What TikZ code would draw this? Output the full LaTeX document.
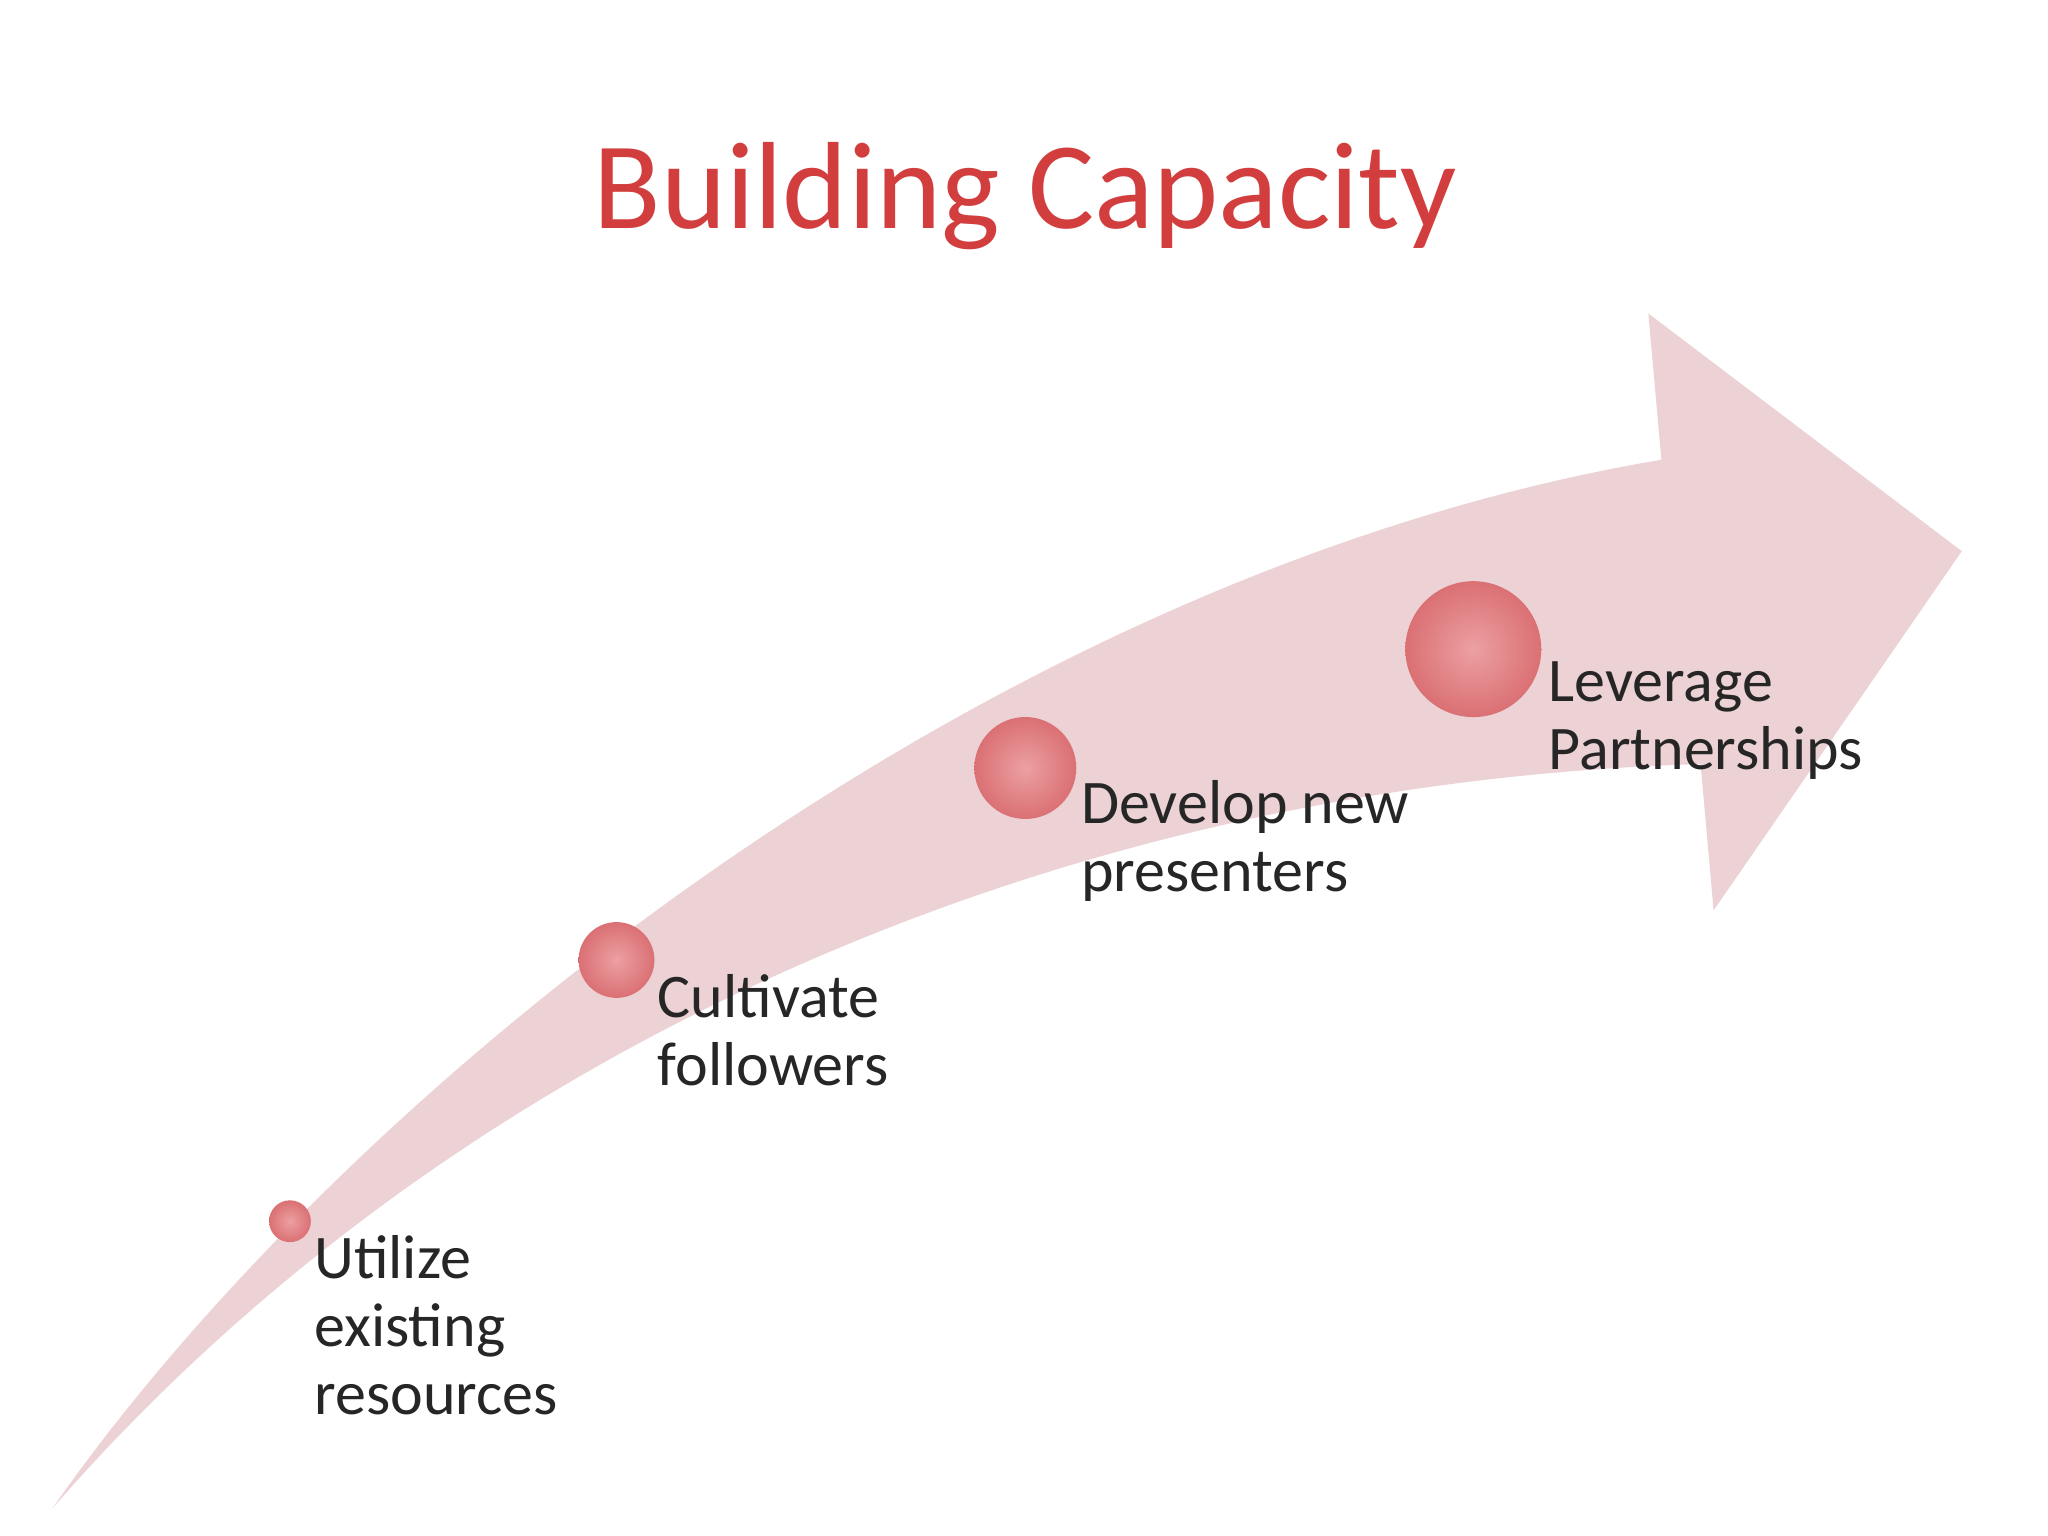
\documentclass[tikz,border=0pt]{standalone}
\usepackage{fontspec}
\setmainfont{Carlito}
\definecolor{titlered}{RGB}{210,62,62}
\definecolor{arrowpink}{RGB}{236,210,212}
\definecolor{balldark}{RGB}{218,112,116}
\definecolor{balllight}{RGB}{236,160,162}
\begin{document}
\begin{tikzpicture}[x=0.01cm,y=-0.01cm,
  ball/.style={circle,inner sep=0pt,draw=none,inner color=balllight,outer color=balldark},
  lbl/.style={anchor=north west,align=left,inner sep=0pt,font=\fontsize{13.5}{14.8}\selectfont,text=black!85}]
\useasboundingbox (0,0) rectangle (1568,1176);
\fill[arrowpink] (40,1155) .. controls (260,840) and (750,440) .. (1272,352)
  -- (1262,240) -- (1502,422) -- (1312,697) -- (1302,585)
  .. controls (800,600) and (340,810) .. (40,1155) -- cycle;
\node[font=\fontsize{27}{32}\selectfont,text=titlered] (title) at (785,150) {Building Capacity};
\node[ball,minimum size=0.32cm] (b1) at (222,935) {};
\node[ball,minimum size=0.58cm] (b2) at (472,735) {};
\node[ball,minimum size=0.78cm] (b3) at (785,588) {};
\node[ball,minimum size=1.04cm] (b4) at (1128,497) {};
\node[lbl] (t1) at (240,945) {Utilize\\existing\\resources};
\node[lbl] (t2) at (503,745) {Cultivate\\followers};
\node[lbl] (t3) at (827,597) {Develop new\\presenters};
\node[lbl] (t4) at (1185,506) {Leverage\\Partnerships};
\end{tikzpicture}
\end{document}
